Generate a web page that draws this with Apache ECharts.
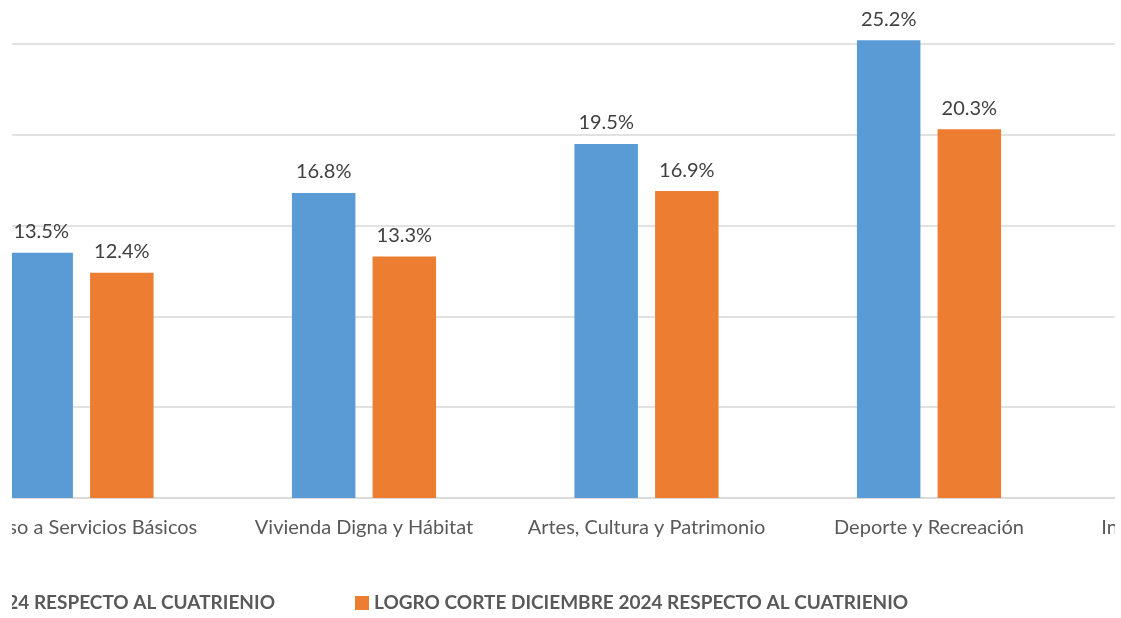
<!DOCTYPE html>
<html>
<head>
<meta charset="utf-8">
<script src="https://cdn.jsdelivr.net/npm/echarts@6/dist/echarts.min.js"></script>
<style>
  html, body { margin: 0; padding: 0; background: #ffffff; }
  #clip { position: absolute; left: 12px; top: 0; width: 1103px; height: 618px; overflow: hidden; background: #fff; }
  #chart { position: absolute; left: -300px; top: -100px; width: 1720px; height: 718px; }
</style>
</head>
<body>
<div id="clip"><div id="chart"></div></div>
<script>
// ---- data ----
const categories = [
  "Acceso a Servicios Básicos",
  "Vivienda Digna y Hábitat",
  "Artes, Cultura y Patrimonio",
  "Deporte y Recreación",
  "Infraestructura Educativa"
];
const seriesNames = [
  "META PROGRAMADA CORTE DICIEMBRE 2024 RESPECTO AL CUATRIENIO",
  "LOGRO CORTE DICIEMBRE 2024 RESPECTO AL CUATRIENIO"
];
const metaValues  = [13.5, 16.8, 19.5, 25.2, null];
const logroValues = [12.4, 13.3, 16.9, 20.3, null];
const yTicks = { min: 0, max: 30, interval: 5 };

// ---- layout (chart div is offset by left -300 inside a clip at screen x=12, top -100) ----
const FONT = "Lato, 'Open Sans', sans-serif";
const chart = echarts.init(document.getElementById('chart'), null, { renderer: 'canvas' });

const labelStyle = {
  show: true,
  position: 'top',
  distance: 11,
  color: '#404040',
  fontSize: 20,
  fontFamily: FONT,
  formatter: p => p.value == null ? '' : p.value.toFixed(1) + '%'
};

const legendText = { color: '#595959', fontSize: 19, fontWeight: 'bold', fontFamily: FONT, lineHeight: 19 };

chart.setOption({
  animation: false,
  backgroundColor: '#ffffff',
  grid: { left: 228.25, right: 79.25, top: 53.2, bottom: 120, containLabel: false },
  xAxis: {
    type: 'category',
    data: categories,
    axisLine: { show: true, lineStyle: { color: '#D9D9D9', width: 1.5 } },
    axisTick: { show: false },
    axisLabel: { color: '#595959', fontSize: 20, fontFamily: FONT, margin: 20, interval: 0 }
  },
  yAxis: {
    type: 'value',
    min: yTicks.min, max: yTicks.max, interval: yTicks.interval,
    axisLabel: { show: false },
    axisLine: { show: false },
    axisTick: { show: false },
    splitLine: { show: true, lineStyle: { color: '#D9D9D9', width: 1.5 } }
  },
  legend: [
    {
      data: [seriesNames[0]],
      right: 1720 - 563, top: 693.5, padding: 0,
      icon: 'rect', itemWidth: 14, itemHeight: 14,
      textStyle: legendText,
      selectedMode: false
    },
    {
      data: [seriesNames[1]],
      left: 643, top: 693.5, padding: 0,
      icon: 'rect', itemWidth: 14, itemHeight: 14,
      textStyle: legendText,
      selectedMode: false
    }
  ],
  series: [
    {
      name: seriesNames[0], type: 'bar', data: metaValues,
      barWidth: 63.5, barGap: '27%',
      itemStyle: { color: '#5B9BD5' },
      label: labelStyle
    },
    {
      name: seriesNames[1], type: 'bar', data: logroValues,
      barWidth: 63.5, barGap: '27%',
      itemStyle: { color: '#ED7D31' },
      label: labelStyle
    }
  ]
});
</script>
</body>
</html>
